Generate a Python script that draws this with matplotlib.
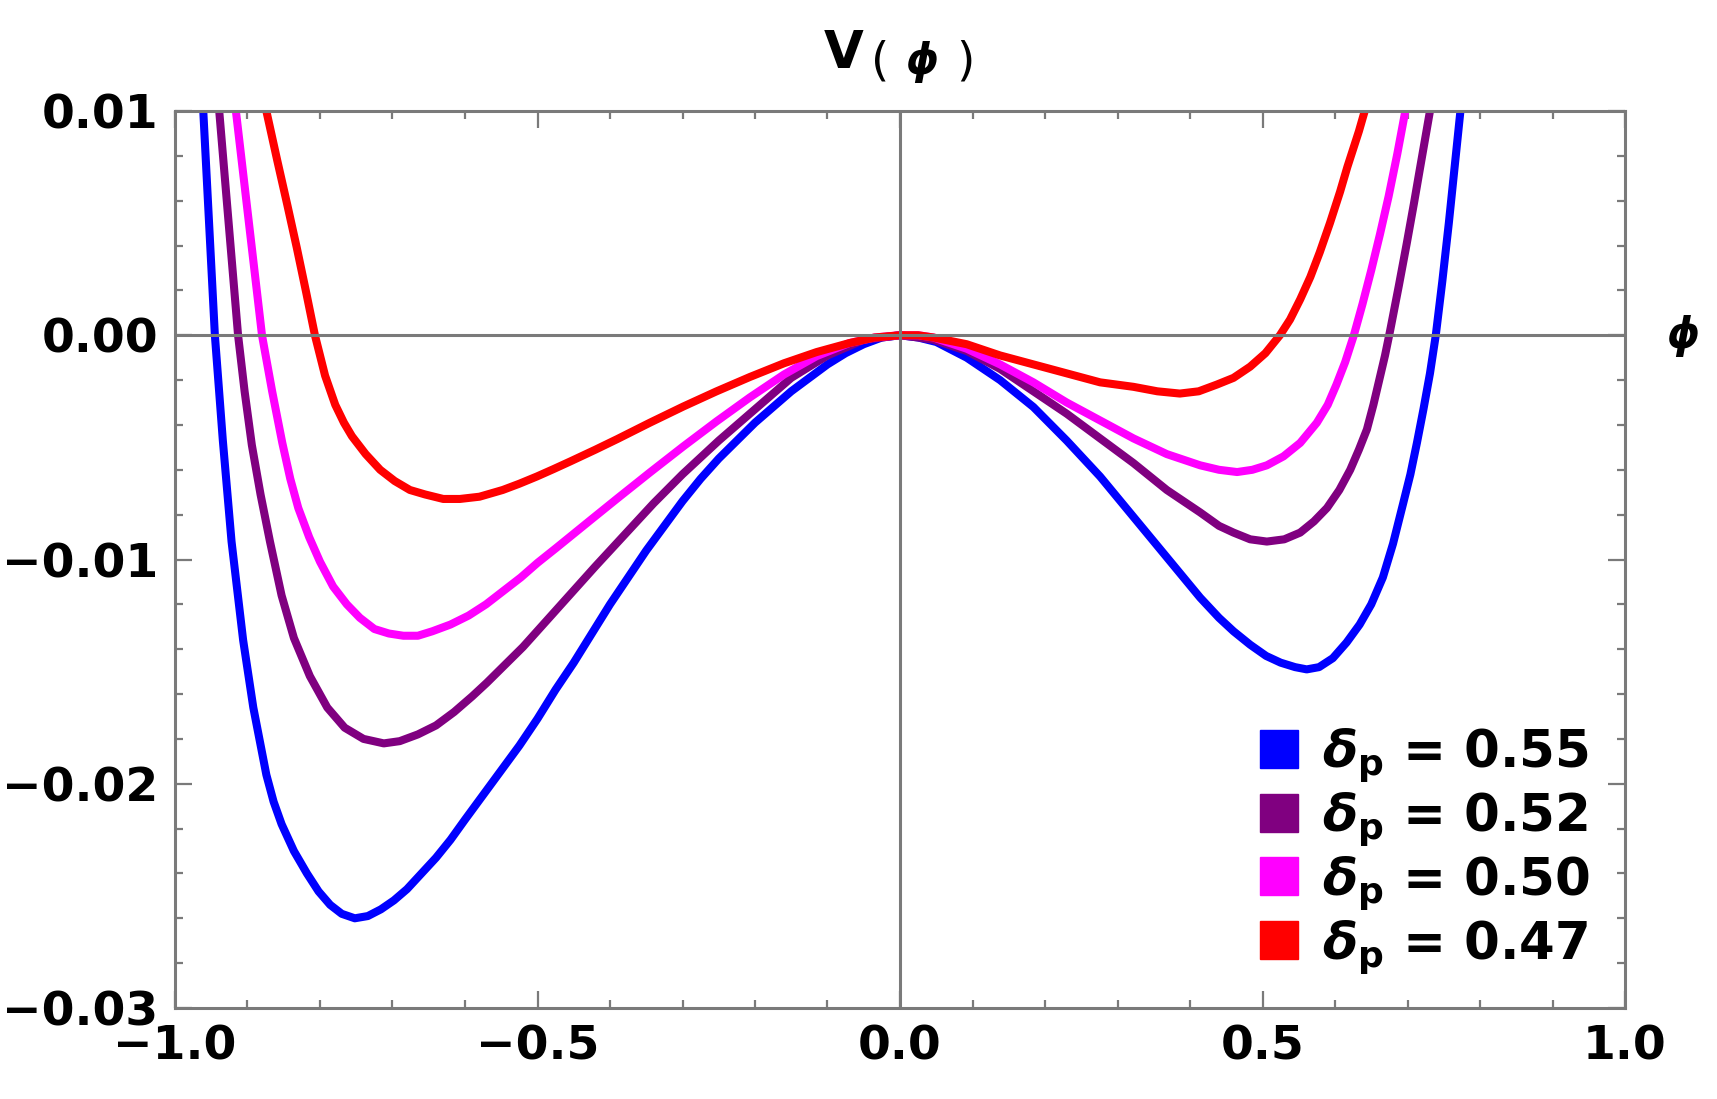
import matplotlib
matplotlib.use("Agg")
import matplotlib.pyplot as plt
from matplotlib.lines import Line2D
from matplotlib.ticker import MultipleLocator

plt.rcParams['font.family'] = ['DejaVu Sans']
plt.rcParams['mathtext.fontset'] = 'custom'
plt.rcParams['mathtext.it'] = 'DejaVu Sans:italic:bold'
plt.rcParams['mathtext.bf'] = 'DejaVu Sans:bold'
plt.rcParams['mathtext.rm'] = 'DejaVu Sans:bold'

# values
deltas = ['0.55', '0.52', '0.50', '0.47']
colors = ['#0000ff', '#800080', '#ff00ff', '#ff0000']

phi_055 = [-0.961, -0.953, -0.945, -0.934, -0.922, -0.906, -0.892, -0.874, -0.864, -0.853,
           -0.836, -0.818, -0.802, -0.786, -0.770, -0.752, -0.734, -0.716, -0.698, -0.680,
           -0.660, -0.640, -0.620, -0.600, -0.575, -0.550, -0.525, -0.500, -0.475, -0.450,
           -0.425, -0.400, -0.375, -0.350, -0.325, -0.300, -0.275, -0.250, -0.225, -0.200,
           -0.175, -0.150, -0.125, -0.100, -0.075, -0.050, -0.025, 0.000, 0.025, 0.050,
           0.092, 0.138, 0.184, 0.230, 0.276, 0.322, 0.368, 0.414, 0.440, 0.460,
           0.483, 0.505, 0.525, 0.545, 0.561, 0.578, 0.597, 0.616, 0.634, 0.650,
           0.666, 0.680, 0.694, 0.704, 0.713, 0.722, 0.731, 0.739, 0.748, 0.757,
           0.765, 0.773]
v_055 = [0.0100, 0.0050, 0.0000, -0.0047, -0.0092, -0.0136, -0.0166, -0.0196, -0.0208, -0.0218,
         -0.0230, -0.0240, -0.0248, -0.0254, -0.0258, -0.0260, -0.0259, -0.0256, -0.0252, -0.0247,
         -0.0240, -0.0233, -0.0225, -0.0216, -0.0205, -0.0194, -0.0183, -0.0171, -0.0158, -0.0146,
         -0.0133, -0.0120, -0.0108, -0.0096, -0.0085, -0.0074, -0.0064, -0.0055, -0.0047, -0.0039,
         -0.0032, -0.0025, -0.0019, -0.0013, -0.0008, -0.0004, -0.0001, 0.0000, -0.0001, -0.0003,
         -0.0010, -0.0020, -0.0032, -0.0047, -0.0063, -0.0081, -0.0099, -0.0117, -0.0126, -0.0132,
         -0.0138, -0.0143, -0.0146, -0.0148, -0.0149, -0.0148, -0.0144, -0.0137, -0.0129, -0.0120,
         -0.0108, -0.0093, -0.0075, -0.0062, -0.0048, -0.0033, -0.0017, 0.0000, 0.0024, 0.0050,
         0.0075, 0.0100]

phi_052 = [-0.939, -0.926, -0.913, -0.904, -0.894, -0.882, -0.869, -0.853, -0.836, -0.814,
           -0.790, -0.766, -0.740, -0.712, -0.690, -0.665, -0.640, -0.615, -0.590, -0.570,
           -0.545, -0.520, -0.495, -0.470, -0.445, -0.420, -0.380, -0.340, -0.300, -0.250,
           -0.200, -0.150, -0.100, -0.050, 0.000, 0.025, 0.046, 0.092, 0.138, 0.184,
           0.230, 0.276, 0.322, 0.368, 0.414, 0.440, 0.460, 0.483, 0.506, 0.530,
           0.552, 0.571, 0.589, 0.606, 0.621, 0.633, 0.644, 0.653, 0.661, 0.669,
           0.676, 0.688, 0.699, 0.709, 0.717, 0.724, 0.731]
v_052 = [0.0100, 0.0050, 0.0000, -0.0025, -0.0049, -0.0071, -0.0092, -0.0116, -0.0135, -0.0152,
         -0.0166, -0.0175, -0.0180, -0.0182, -0.0181, -0.0178, -0.0174, -0.0168, -0.0161, -0.0155,
         -0.0147, -0.0139, -0.0130, -0.0121, -0.0112, -0.0103, -0.0089, -0.0075, -0.0062, -0.0047,
         -0.0033, -0.0019, -0.0009, -0.0002, 0.0000, -0.0001, -0.0002, -0.0007, -0.0015, -0.0025,
         -0.0035, -0.0046, -0.0057, -0.0069, -0.0079, -0.0085, -0.0088, -0.0091, -0.0092, -0.0091,
         -0.0088, -0.0083, -0.0077, -0.0069, -0.0060, -0.0051, -0.0042, -0.0031, -0.0020, -0.0009,
         0.0002, 0.0022, 0.0041, 0.0059, 0.0074, 0.0087, 0.0100]

phi_050 = [-0.916, -0.898, -0.880, -0.866, -0.852, -0.841, -0.830, -0.815, -0.800, -0.782,
           -0.763, -0.745, -0.725, -0.705, -0.685, -0.665, -0.645, -0.620, -0.595, -0.571,
           -0.547, -0.523, -0.500, -0.474, -0.450, -0.426, -0.390, -0.345, -0.299, -0.253,
           -0.207, -0.160, -0.115, -0.070, -0.035, 0.000, 0.025, 0.046, 0.092, 0.138,
           0.184, 0.230, 0.276, 0.322, 0.368, 0.414, 0.440, 0.465, 0.486, 0.506,
           0.529, 0.552, 0.575, 0.590, 0.602, 0.614, 0.626, 0.638, 0.650, 0.662,
           0.674, 0.686, 0.697]
v_050 = [0.0100, 0.0050, 0.0000, -0.0025, -0.0048, -0.0064, -0.0077, -0.0090, -0.0101, -0.0112,
         -0.0120, -0.0126, -0.0131, -0.0133, -0.0134, -0.0134, -0.0132, -0.0129, -0.0125, -0.0120,
         -0.0114, -0.0108, -0.01015, -0.00948, -0.00885, -0.00822, -0.00728, -0.00612, -0.00496, -0.00384,
         -0.00277, -0.00175, -0.00093, -0.00035, -0.0001, 0.0000, 0.0000, -0.0001, -0.0006, -0.0013,
         -0.0021, -0.0030, -0.0038, -0.0046, -0.0053, -0.0058, -0.0060, -0.0061, -0.0060, -0.0058,
         -0.0054, -0.0048, -0.0039, -0.0031, -0.0022, -0.0012, 0.0000, 0.0014, 0.0029, 0.0045,
         0.0062, 0.0081, 0.0100]

phi_047 = [-0.874, -0.859, -0.845, -0.832, -0.819, -0.807, -0.793, -0.779, -0.767, -0.756,
           -0.737, -0.717, -0.697, -0.676, -0.655, -0.630, -0.607, -0.580, -0.548, -0.525,
           -0.501, -0.478, -0.455, -0.420, -0.390, -0.345, -0.299, -0.253, -0.207, -0.160,
           -0.115, -0.070, -0.035, 0.000, 0.025, 0.046, 0.092, 0.138, 0.184, 0.230,
           0.276, 0.322, 0.355, 0.386, 0.412, 0.437, 0.460, 0.483, 0.504, 0.524,
           0.538, 0.552, 0.566, 0.579, 0.593, 0.607, 0.617, 0.625, 0.633, 0.641]
v_047 = [0.0100, 0.0078, 0.0058, 0.0039, 0.0019, 0.0000, -0.0018, -0.0031, -0.0039, -0.0045,
         -0.0053, -0.0060, -0.0065, -0.0069, -0.0071, -0.0073, -0.0073, -0.0072, -0.0069, -0.00662,
         -0.00630, -0.00597, -0.00563, -0.00510, -0.00463, -0.00390, -0.00318, -0.00250, -0.00186, -0.00125,
         -0.00075, -0.00035, -0.0001, 0.0000, 0.0000, -0.0001, -0.0004, -0.0009, -0.0013, -0.0017,
         -0.0021, -0.0023, -0.0025, -0.0026, -0.0025, -0.0022, -0.0019, -0.0014, -0.0008, 0.0000,
         0.0007, 0.0016, 0.0026, 0.0037, 0.0050, 0.0064, 0.0075, 0.0083, 0.0091, 0.0100]

curves = [(phi_055, v_055), (phi_052, v_052), (phi_050, v_050), (phi_047, v_047)]

x_ticks = [-1.0, -0.5, 0.0, 0.5, 1.0]
x_labels = ['\u22121.0', '\u22120.5', '0.0', '0.5', '1.0']
y_ticks = [-0.03, -0.02, -0.01, 0.00, 0.01]
y_labels = ['\u22120.03', '\u22120.02', '\u22120.01', '0.00', '0.01']

gray = '#7a7a7a'
W, H = 1717, 1099
fig = plt.figure(figsize=(W / 100, H / 100), dpi=100)
ax = fig.add_axes([175 / W, 1 - 1008 / H, 1450 / W, 897 / H])

for (x, y), c in zip(curves, colors):
    ax.plot(x, y, color=c, lw=5.8, solid_capstyle='butt', solid_joinstyle='round', zorder=2)

ax.axhline(0, color=gray, lw=2.2, zorder=3)
ax.axvline(0, color=gray, lw=2.2, zorder=3)

ax.set_xlim(-1, 1)
ax.set_ylim(-0.03, 0.01)
ax.set_xticks(x_ticks)
ax.set_xticklabels(x_labels)
ax.set_yticks(y_ticks)
ax.set_yticklabels(y_labels)
ax.xaxis.set_minor_locator(MultipleLocator(0.1))
ax.yaxis.set_minor_locator(MultipleLocator(0.002))

for s in ax.spines.values():
    s.set_color(gray)
    s.set_linewidth(2.2)
ax.tick_params(which='both', direction='in', top=True, right=True, color=gray, width=1.6)
ax.tick_params(which='major', length=12)
ax.tick_params(which='minor', length=6)
ax.tick_params(axis='y', which='major', pad=12, labelsize=34)
ax.tick_params(axis='x', which='major', pad=12, labelsize=34)
for lab in ax.get_xticklabels() + ax.get_yticklabels():
    lab.set_fontweight('bold')

# title V(phi) and axis label phi
fig.text(844 / W, 1 - 54 / H, 'V', fontsize=37, fontweight='bold', ha='center', va='center')
fig.text(880 / W, 1 - 62 / H, '(', fontsize=34, ha='center', va='center')
fig.text(922 / W, 1 - 62 / H, '\u03d5', fontsize=30, fontweight='bold', fontstyle='italic',
         ha='center', va='center')
fig.text(965 / W, 1 - 62 / H, ')', fontsize=34, ha='center', va='center')
fig.text(1683 / W, 1 - 336 / H, '\u03d5', fontsize=30, fontweight='bold', fontstyle='italic',
         ha='center', va='center')

handles = [Line2D([], [], marker='s', linestyle='none', markersize=27, color=c,
                  markeredgecolor=c) for c in colors]
labels = [r'$\delta_{\mathbf{p}}$ = ' + d for d in deltas]
leg = ax.legend(handles, labels, loc='upper left', bbox_to_anchor=(0.747, 0.314),
                frameon=False, borderpad=0, borderaxespad=0, handlelength=0.8,
                handletextpad=0.45, labelspacing=0.12,
                prop={'size': 37, 'weight': 'bold'})

fig.savefig('out.png', dpi=100)
